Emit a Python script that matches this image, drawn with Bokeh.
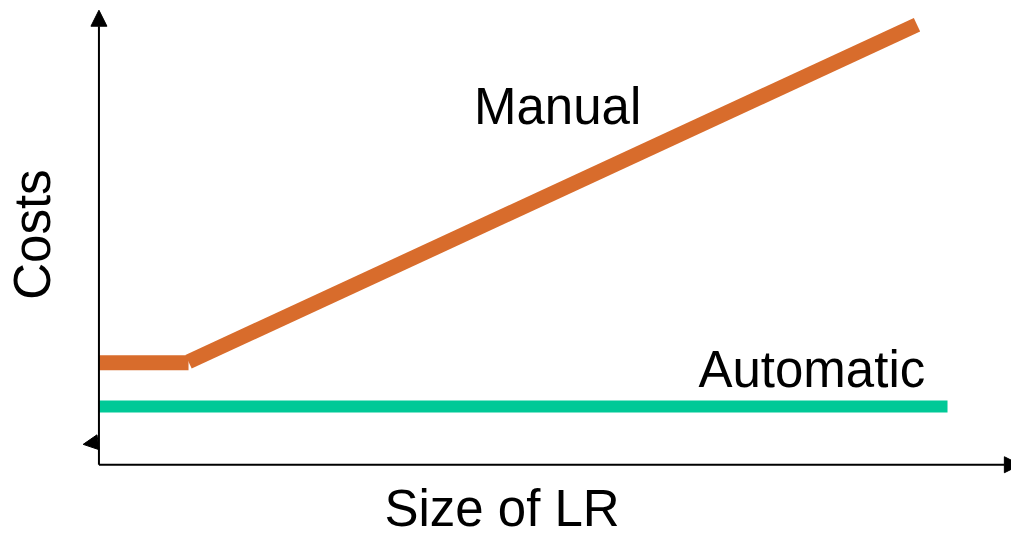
import math
from bokeh.plotting import figure
from bokeh.models import Range1d, Arrow, NormalHead, ColumnDataSource
from bokeh.core.properties import value
from bokeh.embed import file_html
from bokeh.resources import INLINE

# ---- data (abstract units: size of LR vs costs) ----
manual_flat_size = [0, 91]
manual_flat_cost = [105, 105]
manual_rise_size = [91, 831]
manual_rise_cost = [106, 453]
auto_size = [0, 862]
auto_cost = [60, 60]

series_labels = ["Manual", "Automatic"]
series_label_size = [381, 609]
series_label_cost = [369, 98]

x_title = "Size of LR"
y_title = "Costs"

ORANGE = "#D86C2C"
TEAL = "#00C997"
FONT = value("Liberation Sans")

p = figure(width=1011, height=540, output_backend="svg", toolbar_location=None,
           x_range=Range1d(-100, 927), y_range=Range1d(-78, 478),
           min_border=0, min_border_left=0, min_border_right=0,
           min_border_top=0, min_border_bottom=0)
p.axis.visible = False
p.grid.visible = False
p.outline_line_color = None
p.background_fill_color = "white"
p.border_fill_color = "white"

# axes with arrow heads
p.add_layout(Arrow(end=NormalHead(size=16, fill_color="black", line_color="black", line_width=1),
                   x_start=0, y_start=0, x_end=0, y_end=468,
                   line_color="black", line_width=2))
p.add_layout(Arrow(end=NormalHead(size=16, fill_color="black", line_color="black", line_width=1),
                   x_start=0, y_start=0, x_end=936, y_end=0,
                   line_color="black", line_width=2))
# small stray arrow head near the origin
p.add_layout(Arrow(end=NormalHead(size=15, fill_color="black", line_color="black", line_width=1),
                   x_start=-2, y_start=23, x_end=-16, y_end=21,
                   line_alpha=0, line_width=0))

# series lines
p.line(manual_flat_size, manual_flat_cost, line_color=ORANGE, line_width=15, line_cap="butt")
p.line(manual_rise_size, manual_rise_cost, line_color=ORANGE, line_width=15, line_cap="butt")
p.line(auto_size, auto_cost, line_color=TEAL, line_width=12, line_cap="butt")

# series labels
src = ColumnDataSource(dict(x=series_label_size, y=series_label_cost, t=series_labels))
p.text(x="x", y="y", text="t", source=src, text_font=FONT, text_font_size="51px",
       text_color="black", text_align="left", text_baseline="alphabetic")

# axis titles
p.text(x=[290], y=[-45], text=[x_title], text_font=FONT, text_font_size="51px",
       text_color="black", text_align="left", text_baseline="alphabetic")
p.text(x=[-67], y=[237], text=[y_title], text_font=FONT, text_font_size="51px",
       text_color="black", text_align="center", text_baseline="alphabetic",
       angle=math.pi / 2)

open("out.html", "w").write(file_html(p, INLINE))
